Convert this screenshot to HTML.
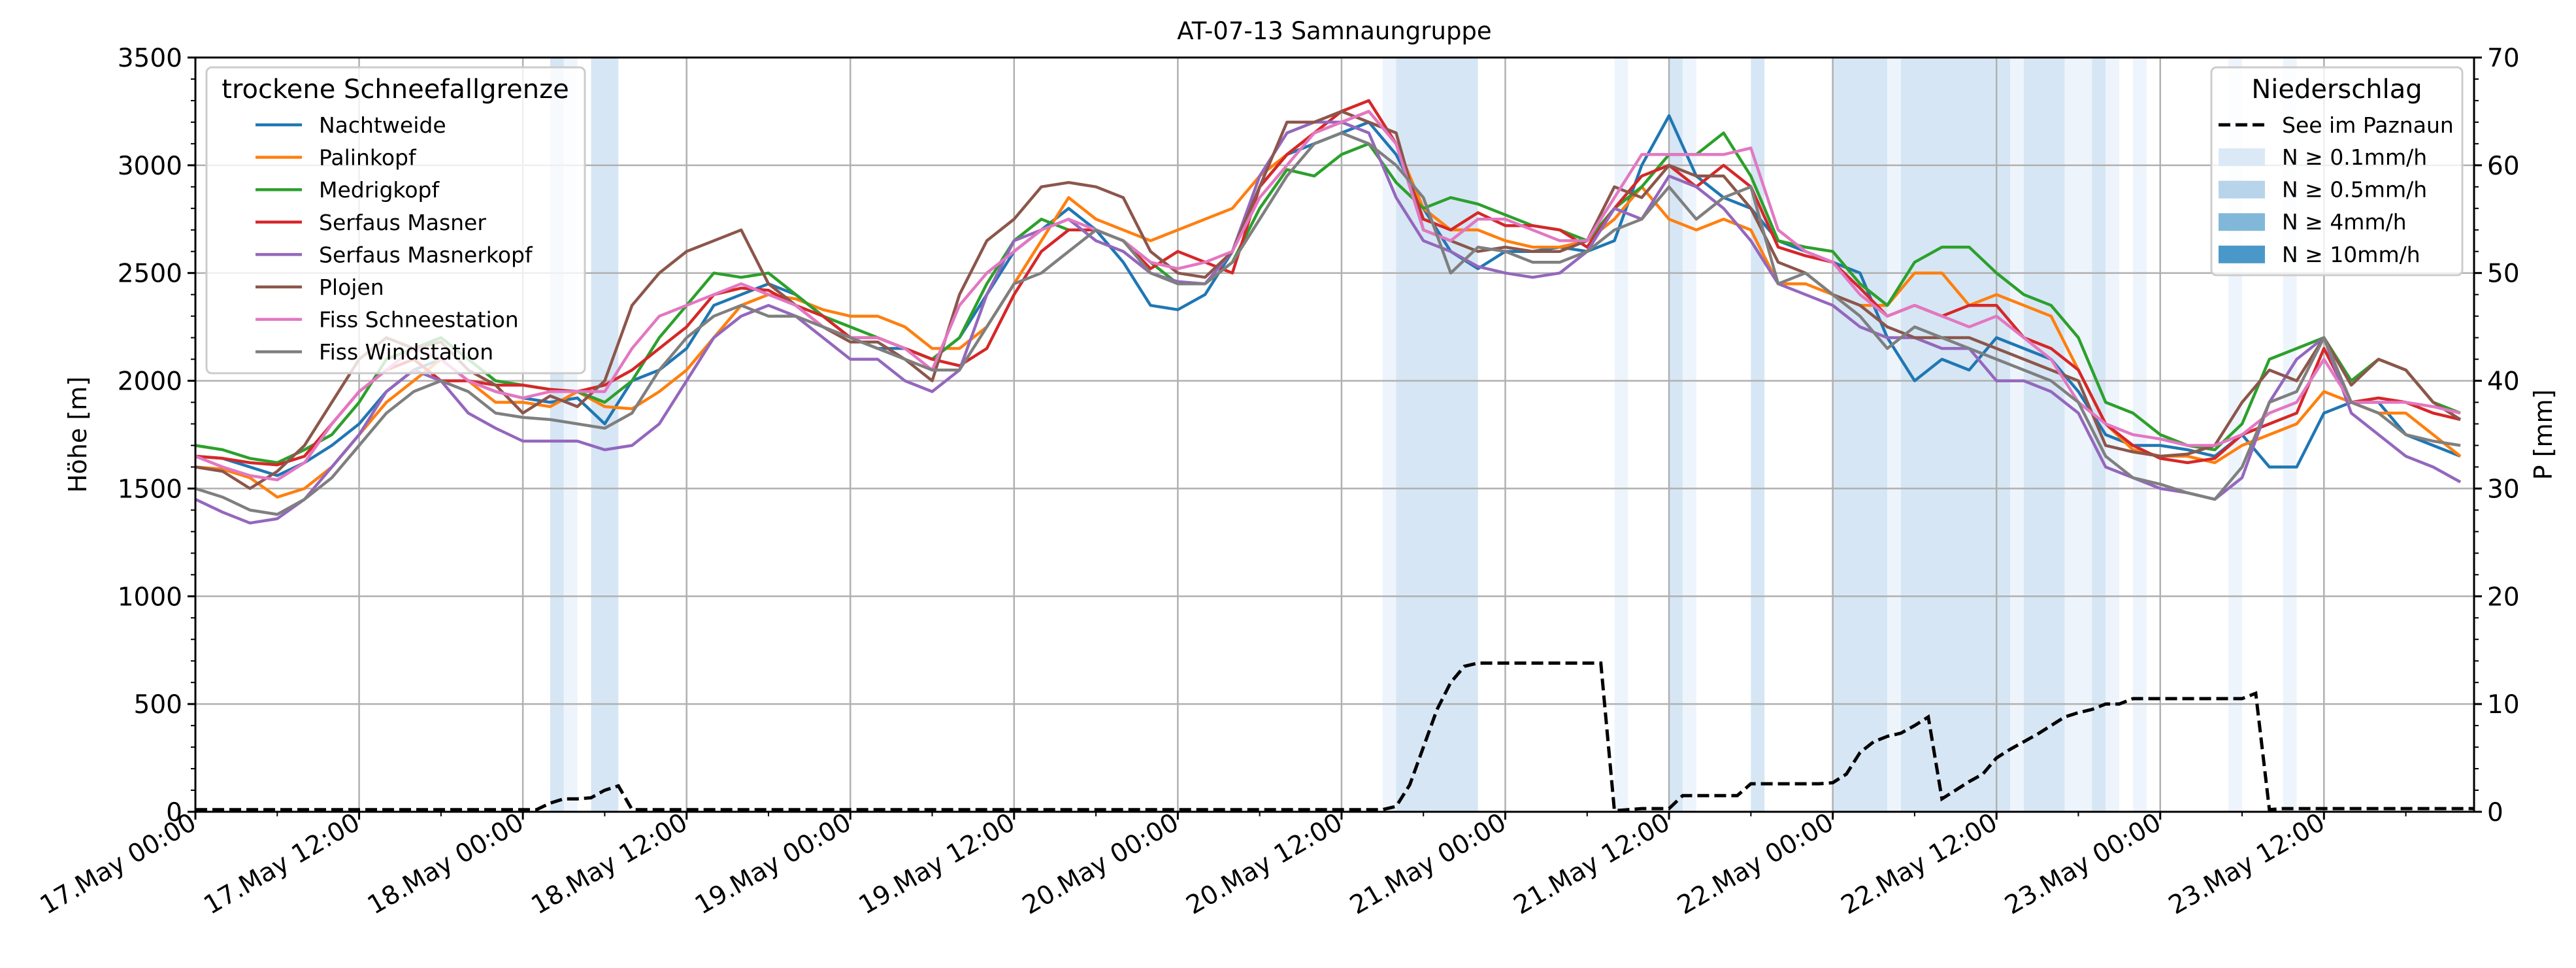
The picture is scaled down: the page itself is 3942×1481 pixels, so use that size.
<!DOCTYPE html>
<html><head><meta charset="utf-8"><style>
html,body{margin:0;padding:0;background:#fff;}
svg{display:block;font-family:"DejaVu Sans","Liberation Sans",sans-serif;}
</style></head><body>
<svg id="chart" xmlns="http://www.w3.org/2000/svg" width="3942" height="1481" viewBox="0 0 3942 1481">
<text x="2042" y="60" font-size="37" text-anchor="middle">AT-07-13 Samnaungruppe</text>
<g id="bands"></g>
<g id="grid"></g>
<g id="lines"></g>
<g id="axes"></g>
<text transform="translate(132,665) rotate(-90)" font-size="38" text-anchor="middle">Höhe [m]</text>
<text transform="translate(3905,665) rotate(-90)" font-size="38" text-anchor="middle">P [mm]</text>
<g id="legend1"></g>
<g id="legend2"></g>
</svg>
<script>
const names = ["Nachtweide","Palinkopf","Medrigkopf","Serfaus Masner","Serfaus Masnerkopf","Plojen","Fiss Schneestation","Fiss Windstation"];
const colors = ["#1f77b4","#ff7f0e","#2ca02c","#d62728","#9467bd","#8c564b","#e377c2","#7f7f7f"];
const hours2 = Array.from({length:84},(_, i)=>i*2);
const nachtweide = [1650,1640,1600,1560,1620,1700,1800,1950,2050,2100,2000,1950,1920,1900,1920,1800,2000,2050,2150,2350,2400,2450,2400,2300,2200,2150,2150,2100,2200,2400,2600,2700,2800,2700,2550,2350,2330,2400,2600,2900,3050,3100,3150,3200,3050,2800,2600,2520,2600,2600,2620,2600,2650,3000,3230,2950,2850,2800,2650,2600,2550,2500,2200,2000,2100,2050,2200,2150,2100,1950,1750,1700,1700,1680,1650,1750,1600,1600,1850,1900,1900,1750,1700,1650];
const palinkopf = [1600,1590,1550,1460,1500,1600,1750,1900,2000,2100,2000,1900,1900,1880,1950,1880,1870,1950,2050,2200,2350,2400,2380,2330,2300,2300,2250,2150,2150,2250,2450,2650,2850,2750,2700,2650,2700,2750,2800,2950,3050,3150,3200,3250,3100,2800,2700,2700,2650,2620,2620,2650,2750,2900,2750,2700,2750,2700,2450,2450,2400,2350,2350,2500,2500,2350,2400,2350,2300,2050,1800,1680,1650,1650,1620,1700,1750,1800,1950,1900,1850,1850,1750,1650];
const medrigkopf = [1700,1680,1640,1620,1680,1750,1900,2100,2150,2200,2100,2000,1980,1960,1950,1900,2000,2200,2350,2500,2480,2500,2400,2300,2250,2200,2150,2100,2200,2450,2650,2750,2700,2700,2650,2550,2450,2450,2550,2800,2980,2950,3050,3100,2920,2800,2850,2820,2770,2720,2700,2650,2800,2900,3050,3050,3150,2950,2650,2620,2600,2450,2350,2550,2620,2620,2500,2400,2350,2200,1900,1850,1750,1700,1680,1800,2100,2150,2200,2000,2100,2050,1900,1850];
const serfausMasner = [1650,1640,1620,1610,1650,1800,1950,2050,2100,2000,2000,1980,1980,1960,1950,1980,2050,2150,2250,2400,2430,2420,2350,2300,2200,2200,2150,2100,2070,2150,2400,2600,2700,2700,2650,2520,2600,2550,2500,2900,3050,3150,3250,3300,3100,2750,2700,2780,2720,2720,2700,2620,2800,2950,3000,2900,3000,2900,2620,2580,2550,2430,2300,2350,2300,2350,2350,2200,2150,2050,1800,1700,1640,1620,1640,1750,1800,1850,2150,1900,1920,1900,1850,1820];
const serfausMasnerkopf = [1450,1390,1340,1360,1450,1600,1750,1950,2050,2000,1850,1780,1720,1720,1720,1680,1700,1800,2000,2200,2300,2350,2300,2200,2100,2100,2000,1950,2050,2400,2650,2700,2750,2650,2600,2500,2460,2450,2600,2950,3150,3200,3200,3150,2850,2650,2600,2530,2500,2480,2500,2600,2800,2750,2950,2900,2800,2650,2450,2400,2350,2250,2200,2200,2150,2150,2000,2000,1950,1850,1600,1550,1500,1480,1450,1550,1900,2100,2200,1850,1750,1650,1600,1530];
const plojen = [1600,1580,1500,1580,1700,1900,2100,2200,2150,2180,2050,1980,1850,1930,1880,2000,2350,2500,2600,2650,2700,2450,2350,2250,2180,2180,2100,2000,2400,2650,2750,2900,2920,2900,2850,2600,2500,2480,2600,2900,3200,3200,3250,3200,3150,2700,2650,2600,2620,2600,2600,2650,2900,2850,3000,2950,2950,2800,2550,2500,2400,2350,2250,2200,2200,2200,2150,2100,2050,2000,1700,1670,1650,1660,1700,1900,2050,2000,2200,1980,2100,2050,1900,1820];
const fissSchnee = [1650,1600,1560,1540,1620,1800,1950,2050,2150,2100,2000,1950,1920,1950,1950,1950,2150,2300,2350,2400,2450,2400,2350,2250,2200,2200,2150,2050,2350,2500,2600,2700,2750,2700,2650,2550,2520,2550,2600,2850,3000,3150,3200,3250,3100,2700,2650,2750,2750,2700,2650,2650,2850,3050,3050,3050,3050,3080,2700,2600,2550,2400,2300,2350,2300,2250,2300,2200,2100,1900,1800,1750,1730,1700,1700,1750,1850,1900,2100,1900,1900,1900,1880,1850];
const fissWind = [1500,1460,1400,1380,1450,1550,1700,1850,1950,2000,1950,1850,1830,1820,1800,1780,1850,2050,2200,2300,2350,2300,2300,2250,2200,2150,2100,2050,2050,2250,2450,2500,2600,2700,2650,2500,2450,2450,2550,2750,2950,3100,3150,3100,3000,2850,2500,2620,2600,2550,2550,2600,2700,2750,2900,2750,2850,2900,2450,2500,2400,2300,2150,2250,2200,2150,2100,2050,2000,1900,1650,1550,1520,1480,1450,1600,1900,1950,2200,1900,1850,1750,1720,1700];
const seriesValues = [nachtweide,palinkopf,medrigkopf,serfausMasner,serfausMasnerkopf,plojen,fissSchnee,fissWind];
const precipHours = Array.from({length:168},(_, i)=>i);
const precipMM = [
0.2,0.2,0.2,0.2,0.2, 0.2,0.2,0.2,0.2,0.2, 0.2,0.2,0.2,0.2,0.2, 0.2,0.2,0.2,0.2,0.2, 0.2,0.2,0.2,0.2,0.2, 0.2,
0.8,1.2,1.2,1.3,2.0,2.4,0.2,
0.2,0.2,0.2,0.2,0.2, 0.2,0.2,0.2,0.2,0.2, 0.2,0.2,0.2,0.2,0.2, 0.2,0.2,0.2,0.2,0.2, 0.2,0.2,0.2,0.2,0.2, 0.2,0.2,0.2,0.2,0.2,
0.2,0.2,0.2,0.2,0.2, 0.2,0.2,0.2,0.2,0.2, 0.2,0.2,0.2,0.2,0.2, 0.2,0.2,0.2,0.2,0.2, 0.2,0.2,0.2,0.2,0.2,
0.5,2.5,6,9.5,12,13.5,
13.8,13.8,13.8,13.8,13.8,13.8,13.8,13.8,13.8,13.8,
0.1,0.2,0.3,0.3,0.3,1.5,1.5,1.5,1.5,1.5,
2.6,2.6,2.6,2.6,2.6,2.6,
2.7,3.5,5.5,6.5,7,7.3,8,8.8,
1.2,2,2.8,3.5,5,5.8,6.5,7.2,8,8.8,9.2,9.5,10,10,10.5,
10.5,10.5,10.5,10.5,10.5,10.5,10.5,10.5,
11,0.2,
0.3,0.3,0.3,0.3,0.3,0.3,0.3,0.3,0.3,0.3,0.3,0.3,0.3,0.3,0.3];
const bandStart = [26,27,29,87,88,104,108,109,114,120,124,125,133,134,137,139,140,142,149,153];
const bandEnd   = [27,28,31,88,94,105,109,110,115,124,125,133,134,137,139,140,141,143,150,154];
const bandLevel = [1,0,1,0,1,0,1,0,1,1,0,1,0,1,0,1,0,0,0,0];
const yTicks = [0,500,1000,1500,2000,2500,3000,3500];
const y2Ticks = [0,10,20,30,40,50,60,70];
const xTickHours = [0,12,24,36,48,60,72,84,96,108,120,132,144,156];
const xTickLabels = ["17.May 00:00","17.May 12:00","18.May 00:00","18.May 12:00","19.May 00:00","19.May 12:00","20.May 00:00","20.May 12:00","21.May 00:00","21.May 12:00","22.May 00:00","22.May 12:00","23.May 00:00","23.May 12:00"];

const L=299,R=3786,T=88,B=1242;
const X=h=>L+h*(R-L)/167;
const Y=v=>B-v*(B-T)/3500;
const P=p=>B-p*(B-T)/70;
const NS="http://www.w3.org/2000/svg";
function mk(tag,attrs,parent){const e=document.createElementNS(NS,tag);for(const k in attrs)e.setAttribute(k,attrs[k]);parent.appendChild(e);return e;}

const gB=document.getElementById('bands');
const bandColors=["#eef4fb","#d6e6f4"];
bandStart.forEach((s,i)=>{
  const r=mk('rect',{x:X(s),y:T,width:X(bandEnd[i])-X(s),height:B-T,fill:bandColors[bandLevel[i]]},gB);
  
  
});
const gG=document.getElementById('grid');
xTickHours.forEach(h=>{const l=mk('line',{x1:X(h),x2:X(h),y1:T,y2:B,stroke:"#b0b0b0","stroke-width":2.5},gG);
  
  });
yTicks.forEach(v=>{const l=mk('line',{x1:L,x2:R,y1:Y(v),y2:Y(v),stroke:"#b0b0b0","stroke-width":2.5},gG);
  
  });

const gL=document.getElementById('lines');
seriesValues.forEach((vals,si)=>{
  const d=vals.map((v,i)=>(i?'L':'M')+X(hours2[i]).toFixed(1)+','+Y(v).toFixed(1)).join(' ');
  const p=mk('path',{d:d,fill:"none",stroke:colors[si],"stroke-width":4.5,"stroke-linejoin":"round"},gL);
  
  
});
const pd=precipMM.map((v,i)=>(i?'L':'M')+X(precipHours[i]).toFixed(1)+','+P(v).toFixed(1)).join(' ');
const pl=mk('path',{d:pd,fill:"none",stroke:"#000","stroke-width":5,"stroke-dasharray":"18,8"},gL);



const gA=document.getElementById('axes');
mk('rect',{x:L,y:T,width:R-L,height:B-T,fill:"none",stroke:"#000","stroke-width":3},gA);
yTicks.forEach(v=>{mk('line',{x1:L-12,x2:L,y1:Y(v),y2:Y(v),stroke:"#000","stroke-width":3},gA);
  const t=mk('text',{x:L-20,y:Y(v)+14,"font-size":39,"text-anchor":"end"},gA);t.textContent=v;
  
  });
for(let v=0;v<=3500;v+=100){if(v%500)mk('line',{x1:L-7,x2:L,y1:Y(v),y2:Y(v),stroke:"#000","stroke-width":2},gA);}
y2Ticks.forEach(v=>{mk('line',{x1:R,x2:R+12,y1:P(v),y2:P(v),stroke:"#000","stroke-width":3},gA);
  const t=mk('text',{x:R+20,y:P(v)+14,"font-size":39},gA);t.textContent=v;
  
  });
for(let v=0;v<=70;v+=2){if(v%10)mk('line',{x1:R,x2:R+7,y1:P(v),y2:P(v),stroke:"#000","stroke-width":2},gA);}
xTickHours.forEach((h,i)=>{mk('line',{x1:X(h),x2:X(h),y1:B,y2:B+12,stroke:"#000","stroke-width":3},gA);
  const t=mk('text',{transform:`translate(${X(h)+4},${B+24}) rotate(-30)`,"font-size":39,"text-anchor":"end"},gA);t.textContent=xTickLabels[i];
  
  });
for(let h=6;h<=167;h+=12)mk('line',{x1:X(h),x2:X(h),y1:B,y2:B+7,stroke:"#000","stroke-width":2},gA);

const g1=document.getElementById('legend1');
mk('rect',{x:316,y:103,width:579,height:468,rx:8,fill:"#fff","fill-opacity":0.8,stroke:"#cccccc","stroke-width":3},g1);
const lt=mk('text',{x:605,y:150,"font-size":40,"text-anchor":"middle"},g1);lt.textContent="trockene Schneefallgrenze";
names.forEach((n,i)=>{const y=191+i*49.6;
  mk('line',{x1:391,x2:462,y1:y,y2:y,stroke:colors[i],"stroke-width":4.5},g1);
  const t=mk('text',{x:488,y:y+12,"font-size":33},g1);t.textContent=n;
  
  });

const g2=document.getElementById('legend2');
mk('rect',{x:3384,y:103,width:384,height:318,rx:8,fill:"#fff","fill-opacity":0.8,stroke:"#cccccc","stroke-width":3},g2);
const lt2=mk('text',{x:3576,y:150,"font-size":40,"text-anchor":"middle"},g2);lt2.textContent="Niederschlag";
mk('line',{x1:3395,x2:3466,y1:191,y2:191,stroke:"#000","stroke-width":5,"stroke-dasharray":"18,8"},g2);
const st=mk('text',{x:3492,y:203,"font-size":33},g2);st.textContent="See im Paznaun";


const patchC=["#dbe9f6","#b7d4ea","#81b8d9","#4a98c9"];
const patchL=["N ≥ 0.1mm/h","N ≥ 0.5mm/h","N ≥ 4mm/h","N ≥ 10mm/h"];
patchL.forEach((s,i)=>{const y=240+i*49.6;
  mk('rect',{x:3395,y:y-13,width:71,height:27,fill:patchC[i]},g2);
  const t=mk('text',{x:3492,y:y+12,"font-size":33},g2);t.textContent=s;
  
  });
</script>
</body></html>
